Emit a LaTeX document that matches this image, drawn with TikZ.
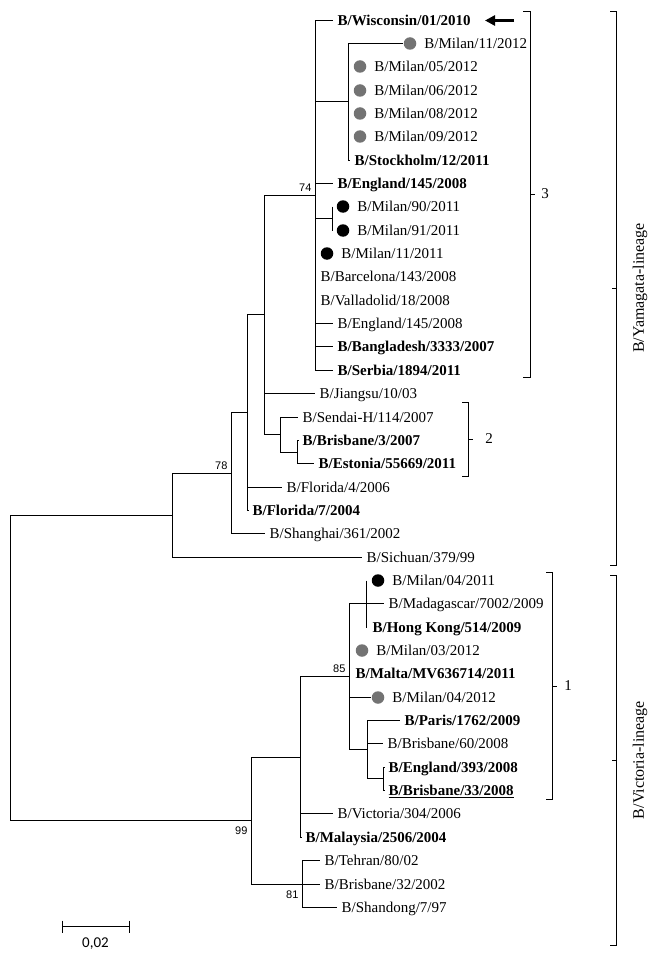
\documentclass[tikz,border=0pt]{standalone}
\usepackage{fontspec}
\setmainfont{Liberation Serif}
\newfontfamily\supfont{Liberation Sans}
\newfontfamily\barfont{Carlito}
\usetikzlibrary{positioning,arrows.meta}
\definecolor{milgray}{RGB}{115,115,115}

\begin{document}
\begin{tikzpicture}[x=1pt,y=-1pt,line width=1.15pt,
  font=\fontsize{15}{17}\selectfont,
  leaf/.style={anchor=west,inner xsep=4pt,inner ysep=0pt,text height=10pt,text depth=0pt},
  bleaf/.style={leaf,font=\fontsize{15}{17}\selectfont\bfseries},
  gdot/.style={circle,fill=milgray,inner sep=0pt,minimum size=12.5pt},
  kdot/.style={gdot,fill=black},
  boot/.style={font=\supfont\fontsize{11}{13}\selectfont,inner sep=3.5pt},
  brace/.style={line width=0.9pt},
  lineage/.style={rotate=90,font=\fontsize{16}{18}\selectfont}]
\useasboundingbox (0,0) rectangle (660,960);

\coordinate (root) at (10.5,667.5);
\coordinate (nYam) at (172.5,515.5);
\coordinate (n78) at (231.5,473.5);
\coordinate (n247) at (247.5,412.5);
\coordinate (nY3) at (264.5,314.5);
\coordinate (n74) at (315.5,195.5);
\coordinate (nA) at (348.5,101.5);
\coordinate (nB) at (332.5,218.5);
\coordinate (nSen) at (280.5,434.5);
\coordinate (nBE) at (297.5,452.5);
\coordinate (n99) at (251.5,820.5);
\coordinate (nVic) at (300.5,757.5);
\coordinate (n85) at (349.5,676.5);
\coordinate (nHK) at (366.5,603.5);
\coordinate (nPar) at (367.5,749.5);
\coordinate (nEB) at (383.5,778.5);
\coordinate (n81) at (302.5,884.5);

\node[bleaf] (wis) at (333,20.5) {B/Wisconsin/01/2010};
\node[gdot] (d1112) at (410,43.5) {};
\node[leaf,right=3pt of d1112] (l1112) {B/Milan/11/2012};
\node[gdot] (d0512) at (360,66.5) {};
\node[leaf,right=3pt of d0512] (l0512) {B/Milan/05/2012};
\node[gdot] (d0612) at (360,90.5) {};
\node[leaf,right=3pt of d0612] (l0612) {B/Milan/06/2012};
\node[gdot] (d0812) at (360,113.5) {};
\node[leaf,right=3pt of d0812] (l0812) {B/Milan/08/2012};
\node[gdot] (d0912) at (360,136.5) {};
\node[leaf,right=3pt of d0912] (l0912) {B/Milan/09/2012};
\node[bleaf] (stk) at (350,160.5) {B/Stockholm/12/2011};
\node[bleaf] (eng145b) at (333,183.5) {B/England/145/2008};
\node[kdot] (d9011) at (343,206.5) {};
\node[leaf,right=3pt of d9011] (l9011) {B/Milan/90/2011};
\node[kdot] (d9111) at (343,230.5) {};
\node[leaf,right=3pt of d9111] (l9111) {B/Milan/91/2011};
\node[kdot] (d1111) at (327,253.5) {};
\node[leaf,right=3pt of d1111] (l1111) {B/Milan/11/2011};
\node[leaf] (barc) at (316,276.5) {B/Barcelona/143/2008};
\node[leaf] (vall) at (316,300.5) {B/Valladolid/18/2008};
\node[leaf] (eng145) at (333,323.5) {B/England/145/2008};
\node[bleaf] (bang) at (333,346.5) {B/Bangladesh/3333/2007};
\node[bleaf] (serb) at (333,370.5) {B/Serbia/1894/2011};
\node[leaf] (jiang) at (315,393.5) {B/Jiangsu/10/03};
\node[leaf] (sendai) at (298,417.5) {B/Sendai-H/114/2007};
\node[bleaf] (bris3) at (298,440.5) {B/Brisbane/3/2007};
\node[bleaf] (est) at (314,463.5) {B/Estonia/55669/2011};
\node[leaf] (flo4) at (282,487.5) {B/Florida/4/2006};
\node[bleaf] (flo7) at (248,510.5) {B/Florida/7/2004};
\node[leaf] (shang) at (265,533.5) {B/Shanghai/361/2002};
\node[leaf] (sich) at (362,557.5) {B/Sichuan/379/99};

\node[kdot] (d0411) at (378,580.5) {};
\node[leaf,right=3pt of d0411] (l0411) {B/Milan/04/2011};
\node[leaf] (madag) at (384,603.5) {B/Madagascar/7002/2009};
\node[bleaf] (hk) at (368,627.5) {B/Hong Kong/514/2009};
\node[gdot] (d0312) at (362,650.5) {};
\node[leaf,right=3pt of d0312] (l0312) {B/Milan/03/2012};
\node[bleaf] (malta) at (351,673.5) {B/Malta/MV636714/2011};
\node[gdot] (d0412) at (378,697.5) {};
\node[leaf,right=3pt of d0412] (l0412) {B/Milan/04/2012};
\node[bleaf] (paris) at (400,720.5) {B/Paris/1762/2009};
\node[leaf] (bris60) at (383,743.5) {B/Brisbane/60/2008};
\node[bleaf] (eng393) at (384,767.5) {B/England/393/2008};
\node[bleaf] (bris33) at (384,790.5) {\underline{B/Brisbane/33/2008}};
\node[leaf] (vict) at (333,813.5) {B/Victoria/304/2006};
\node[bleaf] (malay) at (301,837.5) {B/Malaysia/2506/2004};
\node[leaf] (tehran) at (320,860.5) {B/Tehran/80/02};
\node[leaf] (bris32) at (320,884.5) {B/Brisbane/32/2002};
\node[leaf] (shand) at (337,907.5) {B/Shandong/7/97};

\draw (root) |- (nYam) (root) |- (n99);
\draw (nYam) |- (n78) (nYam) |- (sich.west);
\draw (n78) |- (n247) (n78) |- (shang.west);
\draw (n247) |- (nY3) (n247) |- (flo4.west) (n247) |- (flo7.west);
\draw (nY3) |- (n74) (nY3) |- (jiang.west) (nY3) |- (nSen);
\draw (nSen) |- (sendai.west) (nSen) |- (nBE);
\draw (nBE) |- (bris3.west) (nBE) |- (est.west);
\draw (n74) |- (wis.west) (n74) |- (nA) (n74) |- (eng145b.west) (n74) |- (nB)
  (n74) |- (eng145.west) (n74) |- (bang.west) (n74) |- (serb.west);
\draw (nA) |- (d1112.west) (nA) |- (stk.west);
\draw (nB |- d9011) -- (nB |- d9111);

\draw (n99) |- (nVic) (n99) |- (n81);
\draw (nVic) |- (n85) (nVic) |- (vict.west) (nVic) |- (malay.west);
\draw (n85) |- (nHK) (n85) |- (d0412.west) (n85) |- (nPar);
\draw (nHK |- d0411) -- (nHK |- hk.west) (nHK) -- (madag.west);
\draw (nPar) |- (paris.west) (nPar) |- (bris60.west) (nPar) |- (nEB);
\draw (nEB) |- (eng393.west) (nEB) |- (bris33.west);
\draw (n81) |- (tehran.west) (n81) |- (bris32.west) (n81) |- (shand.west);

\node[boot,anchor=south east] (b74) at (n74) {74};
\node[boot,anchor=south east] (b78) at (n78) {78};
\node[boot,anchor=south east] (b85) at (n85) {85};
\node[boot,anchor=north east,yshift=-2.5pt] (b99) at (n99) {99};
\node[boot,anchor=north east,yshift=-2.5pt] (b81) at (n81) {81};

\coordinate (arrtail) at (514,20.5);
\coordinate (arrtip) at (485,20.5);
\draw[-{Triangle[length=10pt,width=10pt]},line width=3.5pt] (arrtail) -- (arrtip);

\draw[brace] (523,11.5) -- (530.5,11.5) -- (530.5,377.5) -- (523,377.5) (530.5,194.5) -- (535,194.5);
\node (c3) at (545,194) {3};
\draw[brace] (462,402.5) -- (468.5,402.5) -- (468.5,476.5) -- (462,476.5) (468.5,439.5) -- (473,439.5);
\node (c2) at (489,439) {2};
\draw[brace] (546,572.5) -- (552.5,572.5) -- (552.5,799.5) -- (546,799.5) (552.5,686.5) -- (557,686.5);
\node (c1) at (568,686) {1};
\draw[brace] (610,11.5) -- (616.5,11.5) -- (616.5,565.5) -- (610,565.5) (612,288.5) -- (616.5,288.5);
\node[lineage] (yam) at (640,288) {B/Yamagata-lineage};
\draw[brace] (610,575.5) -- (616.5,575.5) -- (616.5,945.5) -- (610,945.5) (612,760.5) -- (616.5,760.5);
\node[lineage] (vic) at (640,760) {B/Victoria-lineage};

\coordinate (sbl) at (62.5,926.5);
\coordinate (sbr) at (129.5,926.5);
\draw (sbl) -- (sbr) ([yshift=6pt]sbl) -- ([yshift=-6pt]sbl) ([yshift=6pt]sbr) -- ([yshift=-6pt]sbr);
\node[font=\barfont\fontsize{15}{17}\selectfont] (sblab) at (95.5,944) {0,02};
\end{tikzpicture}
\end{document}
